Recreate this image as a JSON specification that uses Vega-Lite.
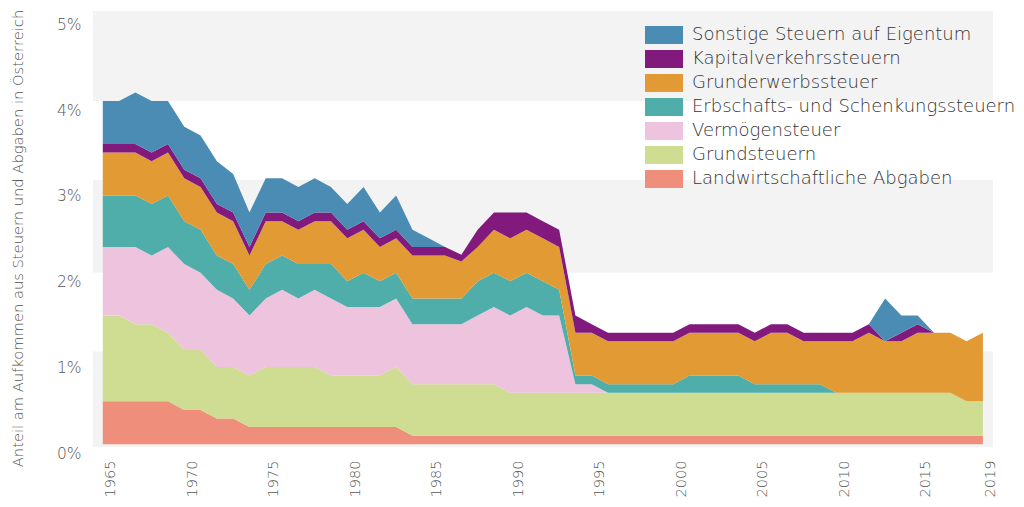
{
  "$schema": "https://vega.github.io/schema/vega-lite/v6.json",
  "width": 900,
  "height": 436,
  "autosize": {"type": "none"},
  "padding": {"left": 93, "top": 11, "right": 31, "bottom": 60},
  "background": "white",
  "config": {"view": {"stroke": null}, "font": "DejaVu Sans"},
  "datasets": {
    "baender": [
      {"von": -0.032, "bis": 1.08},
      {"von": 2.0, "bis": 3.08},
      {"von": 4.0, "bis": 5.05}
    ],
    "arten": [
      {"code": "L", "Art": "Landwirtschaftliche Abgaben", "Rang": 1},
      {"code": "G", "Art": "Grundsteuern", "Rang": 2},
      {"code": "V", "Art": "Vermögensteuer", "Rang": 3},
      {"code": "E", "Art": "Erbschafts- und Schenkungssteuern", "Rang": 4},
      {"code": "GE", "Art": "Grunderwerbssteuer", "Rang": 5},
      {"code": "K", "Art": "Kapitalverkehrssteuern", "Rang": 6},
      {"code": "S", "Art": "Sonstige Steuern auf Eigentum", "Rang": 7}
    ],
    "werte": [
      {"Jahr": 1965, "L": 0.5, "G": 1.0, "V": 0.8, "E": 0.6, "GE": 0.5, "K": 0.1, "S": 0.5},
      {"Jahr": 1966, "L": 0.5, "G": 1.0, "V": 0.8, "E": 0.6, "GE": 0.5, "K": 0.1, "S": 0.5},
      {"Jahr": 1967, "L": 0.5, "G": 0.9, "V": 0.9, "E": 0.6, "GE": 0.5, "K": 0.1, "S": 0.6},
      {"Jahr": 1968, "L": 0.5, "G": 0.9, "V": 0.8, "E": 0.6, "GE": 0.5, "K": 0.1, "S": 0.6},
      {"Jahr": 1969, "L": 0.5, "G": 0.8, "V": 1.0, "E": 0.6, "GE": 0.5, "K": 0.1, "S": 0.5},
      {"Jahr": 1970, "L": 0.4, "G": 0.7, "V": 1.0, "E": 0.5, "GE": 0.5, "K": 0.1, "S": 0.5},
      {"Jahr": 1971, "L": 0.4, "G": 0.7, "V": 0.9, "E": 0.5, "GE": 0.5, "K": 0.1, "S": 0.5},
      {"Jahr": 1972, "L": 0.3, "G": 0.6, "V": 0.9, "E": 0.4, "GE": 0.5, "K": 0.1, "S": 0.5},
      {"Jahr": 1973, "L": 0.3, "G": 0.6, "V": 0.8, "E": 0.4, "GE": 0.5, "K": 0.1, "S": 0.45},
      {"Jahr": 1974, "L": 0.2, "G": 0.6, "V": 0.7, "E": 0.3, "GE": 0.4, "K": 0.1, "S": 0.4},
      {"Jahr": 1975, "L": 0.2, "G": 0.7, "V": 0.8, "E": 0.4, "GE": 0.5, "K": 0.1, "S": 0.4},
      {"Jahr": 1976, "L": 0.2, "G": 0.7, "V": 0.9, "E": 0.4, "GE": 0.4, "K": 0.1, "S": 0.4},
      {"Jahr": 1977, "L": 0.2, "G": 0.7, "V": 0.8, "E": 0.4, "GE": 0.4, "K": 0.1, "S": 0.4},
      {"Jahr": 1978, "L": 0.2, "G": 0.7, "V": 0.9, "E": 0.3, "GE": 0.5, "K": 0.1, "S": 0.4},
      {"Jahr": 1979, "L": 0.2, "G": 0.6, "V": 0.9, "E": 0.4, "GE": 0.5, "K": 0.1, "S": 0.3},
      {"Jahr": 1980, "L": 0.2, "G": 0.6, "V": 0.8, "E": 0.3, "GE": 0.5, "K": 0.1, "S": 0.3},
      {"Jahr": 1981, "L": 0.2, "G": 0.6, "V": 0.8, "E": 0.4, "GE": 0.5, "K": 0.1, "S": 0.4},
      {"Jahr": 1982, "L": 0.2, "G": 0.6, "V": 0.8, "E": 0.3, "GE": 0.4, "K": 0.1, "S": 0.3},
      {"Jahr": 1983, "L": 0.2, "G": 0.7, "V": 0.8, "E": 0.3, "GE": 0.4, "K": 0.1, "S": 0.4},
      {"Jahr": 1984, "L": 0.1, "G": 0.6, "V": 0.7, "E": 0.3, "GE": 0.5, "K": 0.1, "S": 0.2},
      {"Jahr": 1985, "L": 0.1, "G": 0.6, "V": 0.7, "E": 0.3, "GE": 0.5, "K": 0.1, "S": 0.1},
      {"Jahr": 1986, "L": 0.1, "G": 0.6, "V": 0.7, "E": 0.3, "GE": 0.5, "K": 0.1, "S": 0},
      {"Jahr": 1987, "L": 0.1, "G": 0.6, "V": 0.7, "E": 0.3, "GE": 0.43, "K": 0.08, "S": 0},
      {"Jahr": 1988, "L": 0.1, "G": 0.6, "V": 0.8, "E": 0.4, "GE": 0.4, "K": 0.2, "S": 0},
      {"Jahr": 1989, "L": 0.1, "G": 0.6, "V": 0.9, "E": 0.4, "GE": 0.5, "K": 0.2, "S": 0},
      {"Jahr": 1990, "L": 0.1, "G": 0.5, "V": 0.9, "E": 0.4, "GE": 0.5, "K": 0.3, "S": 0},
      {"Jahr": 1991, "L": 0.1, "G": 0.5, "V": 1.0, "E": 0.4, "GE": 0.5, "K": 0.2, "S": 0},
      {"Jahr": 1992, "L": 0.1, "G": 0.5, "V": 0.9, "E": 0.4, "GE": 0.5, "K": 0.2, "S": 0},
      {"Jahr": 1993, "L": 0.1, "G": 0.5, "V": 0.9, "E": 0.3, "GE": 0.5, "K": 0.2, "S": 0},
      {"Jahr": 1994, "L": 0.1, "G": 0.5, "V": 0.1, "E": 0.1, "GE": 0.5, "K": 0.2, "S": 0},
      {"Jahr": 1995, "L": 0.1, "G": 0.5, "V": 0.1, "E": 0.1, "GE": 0.5, "K": 0.1, "S": 0},
      {"Jahr": 1996, "L": 0.1, "G": 0.5, "V": 0, "E": 0.1, "GE": 0.5, "K": 0.1, "S": 0},
      {"Jahr": 1997, "L": 0.1, "G": 0.5, "V": 0, "E": 0.1, "GE": 0.5, "K": 0.1, "S": 0},
      {"Jahr": 1998, "L": 0.1, "G": 0.5, "V": 0, "E": 0.1, "GE": 0.5, "K": 0.1, "S": 0},
      {"Jahr": 1999, "L": 0.1, "G": 0.5, "V": 0, "E": 0.1, "GE": 0.5, "K": 0.1, "S": 0},
      {"Jahr": 2000, "L": 0.1, "G": 0.5, "V": 0, "E": 0.1, "GE": 0.5, "K": 0.1, "S": 0},
      {"Jahr": 2001, "L": 0.1, "G": 0.5, "V": 0, "E": 0.2, "GE": 0.5, "K": 0.1, "S": 0},
      {"Jahr": 2002, "L": 0.1, "G": 0.5, "V": 0, "E": 0.2, "GE": 0.5, "K": 0.1, "S": 0},
      {"Jahr": 2003, "L": 0.1, "G": 0.5, "V": 0, "E": 0.2, "GE": 0.5, "K": 0.1, "S": 0},
      {"Jahr": 2004, "L": 0.1, "G": 0.5, "V": 0, "E": 0.2, "GE": 0.5, "K": 0.1, "S": 0},
      {"Jahr": 2005, "L": 0.1, "G": 0.5, "V": 0, "E": 0.1, "GE": 0.5, "K": 0.1, "S": 0},
      {"Jahr": 2006, "L": 0.1, "G": 0.5, "V": 0, "E": 0.1, "GE": 0.6, "K": 0.1, "S": 0},
      {"Jahr": 2007, "L": 0.1, "G": 0.5, "V": 0, "E": 0.1, "GE": 0.6, "K": 0.1, "S": 0},
      {"Jahr": 2008, "L": 0.1, "G": 0.5, "V": 0, "E": 0.1, "GE": 0.5, "K": 0.1, "S": 0},
      {"Jahr": 2009, "L": 0.1, "G": 0.5, "V": 0, "E": 0.1, "GE": 0.5, "K": 0.1, "S": 0},
      {"Jahr": 2010, "L": 0.1, "G": 0.5, "V": 0, "E": 0, "GE": 0.6, "K": 0.1, "S": 0},
      {"Jahr": 2011, "L": 0.1, "G": 0.5, "V": 0, "E": 0, "GE": 0.6, "K": 0.1, "S": 0},
      {"Jahr": 2012, "L": 0.1, "G": 0.5, "V": 0, "E": 0, "GE": 0.7, "K": 0.1, "S": 0},
      {"Jahr": 2013, "L": 0.1, "G": 0.5, "V": 0, "E": 0, "GE": 0.6, "K": 0, "S": 0.5},
      {"Jahr": 2014, "L": 0.1, "G": 0.5, "V": 0, "E": 0, "GE": 0.6, "K": 0.1, "S": 0.2},
      {"Jahr": 2015, "L": 0.1, "G": 0.5, "V": 0, "E": 0, "GE": 0.7, "K": 0.1, "S": 0.1},
      {"Jahr": 2016, "L": 0.1, "G": 0.5, "V": 0, "E": 0, "GE": 0.7, "K": 0, "S": 0},
      {"Jahr": 2017, "L": 0.1, "G": 0.5, "V": 0, "E": 0, "GE": 0.7, "K": 0, "S": 0},
      {"Jahr": 2018, "L": 0.1, "G": 0.4, "V": 0, "E": 0, "GE": 0.7, "K": 0, "S": 0},
      {"Jahr": 2019, "L": 0.1, "G": 0.4, "V": 0, "E": 0, "GE": 0.8, "K": 0, "S": 0}
    ]
  },
  "layer": [
    {
      "data": {"name": "baender"},
      "mark": {"type": "rect", "color": "#f3f3f3"},
      "encoding": {
        "y": {
          "field": "von", "type": "quantitative",
          "scale": {"domain": [-0.032, 5.05], "nice": false, "zero": false},
          "axis": {
            "values": [0, 1, 2, 3, 4, 5], "labelExpr": "datum.value + '%'",
            "title": "Anteil am Aufkommen aus Steuern und Abgaben in Österreich",
            "domain": false, "ticks": false, "grid": false,
            "labelPadding": 12, "labelOffset": 9, "labelFontSize": 15.5, "labelFontWeight": 300, "labelColor": "#555555",
            "titleFontSize": 14.7, "titleFontWeight": 300, "titleColor": "#505050",
            "titleX": -75, "titleY": 227, "titleAngle": -90, "titleAlign": "center", "titleBaseline": "middle"
          }
        },
        "y2": {"field": "bis"}
      }
    },
    {
      "data": {"name": "werte"},
      "transform": [
        {"fold": ["L", "G", "V", "E", "GE", "K", "S"], "as": ["code", "Anteil"]},
        {"lookup": "code", "from": {"data": {"name": "arten"}, "key": "code", "fields": ["Art", "Rang"]}}
      ],
      "mark": {"type": "area", "interpolate": "linear"},
      "encoding": {
        "x": {
          "field": "Jahr", "type": "quantitative",
          "scale": {"domain": [1964.4, 2019.62], "nice": false, "zero": false},
          "axis": {
            "values": [1965, 1970, 1975, 1980, 1985, 1990, 1995, 2000, 2005, 2010, 2015, 2019],
            "format": "d", "title": null, "domain": false, "ticks": false, "grid": false,
            "labelAngle": -90, "labelAlign": "right", "labelBaseline": "middle",
            "labelPadding": 13, "labelOffset": 8, "labelFontSize": 14.5, "labelFontWeight": 300, "labelColor": "#555555",
            "labelOverlap": false, "labelFlush": false, "labelBound": false
          }
        },
        "y": {
          "field": "Anteil", "type": "quantitative", "stack": "zero",
          "scale": {"domain": [-0.032, 5.05], "nice": false, "zero": false},
          "axis": {
            "values": [0, 1, 2, 3, 4, 5], "labelExpr": "datum.value + '%'",
            "title": "Anteil am Aufkommen aus Steuern und Abgaben in Österreich",
            "domain": false, "ticks": false, "grid": false,
            "labelPadding": 12, "labelOffset": 9, "labelFontSize": 15.5, "labelFontWeight": 300, "labelColor": "#555555",
            "titleFontSize": 14.7, "titleFontWeight": 300, "titleColor": "#505050",
            "titleX": -75, "titleY": 227, "titleAngle": -90, "titleAlign": "center", "titleBaseline": "middle"
          }
        },
        "color": {
          "field": "Art", "type": "nominal",
          "scale": {
            "domain": ["Sonstige Steuern auf Eigentum", "Kapitalverkehrssteuern", "Grunderwerbssteuer", "Erbschafts- und Schenkungssteuern", "Vermögensteuer", "Grundsteuern", "Landwirtschaftliche Abgaben"],
            "range": ["#4a8cb3", "#82197d", "#e29a34", "#4faea9", "#edc3dd", "#cfdd92", "#ef8e7a"]
          },
          "legend": {
            "orient": "none", "legendX": 552, "legendY": 12, "title": null, "padding": 0,
            "symbolType": "M-1,-0.4737H1V0.4737H-1Z", "symbolSize": 1444, "symbolStrokeWidth": 0, "symbolOpacity": 1,
            "labelFontSize": 18, "labelFontWeight": 300, "labelColor": "#333333", "labelOffset": 9,
            "rowPadding": 0, "clipHeight": 24, "labelLimit": 400
          }
        },
        "order": {"field": "Rang", "type": "quantitative", "sort": "ascending"}
      }
    }
  ]
}
